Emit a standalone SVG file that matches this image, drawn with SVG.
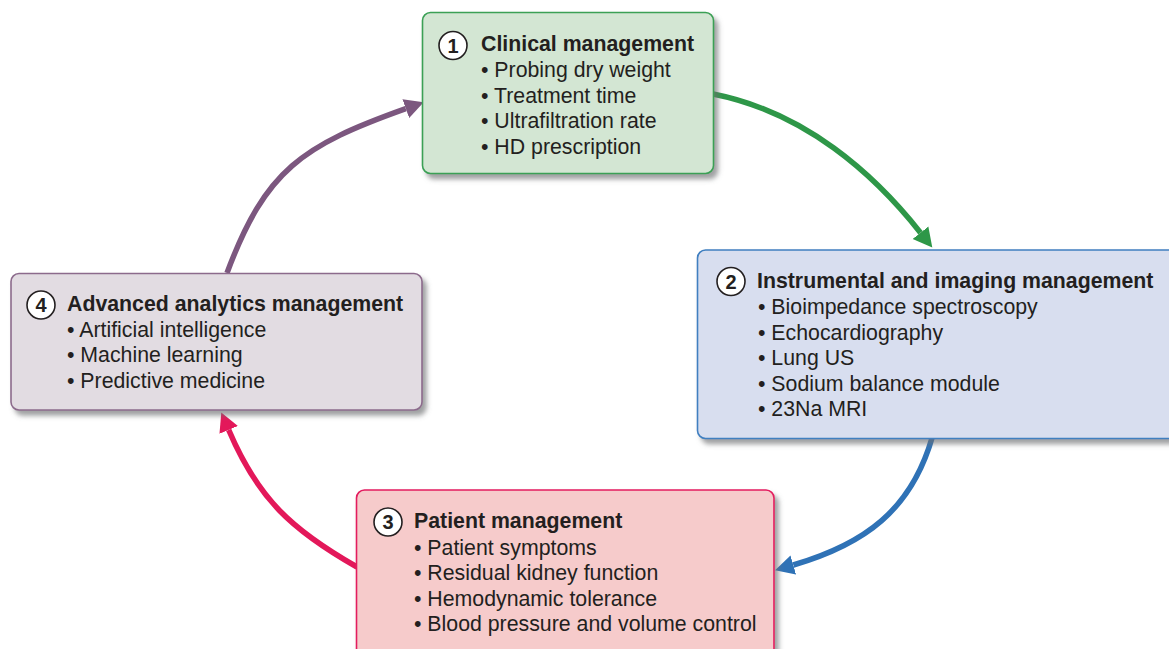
<svg xmlns="http://www.w3.org/2000/svg" width="1169" height="649" viewBox="0 0 1169 649">
<style>
.t{font-family:"Liberation Sans",Arial,sans-serif;font-size:21.3px;fill:#231f20}
.b{font-weight:bold}
.num{font-family:"Liberation Sans",Arial,sans-serif;font-size:20px;font-weight:bold;fill:#231f20;text-anchor:middle}
.c{fill:#fff;stroke:#231f20;stroke-width:1.6}
.box{stroke-width:1.6}
.arr{fill:none;stroke-width:5.5}
</style>
<defs>
<filter id="sh" x="-10%" y="-10%" width="125%" height="130%">
<feDropShadow dx="4" dy="5" stdDeviation="2.5" flood-color="#6d6e71" flood-opacity="0.65"/>
</filter>
<marker id="mg" markerUnits="userSpaceOnUse" markerWidth="20" markerHeight="22" refX="0" refY="11" orient="auto"><path d="M0,1 L19,11 L0,21 z" fill="#2e9748"/></marker>
<marker id="mb" markerUnits="userSpaceOnUse" markerWidth="20" markerHeight="22" refX="0" refY="11" orient="auto"><path d="M0,1 L19,11 L0,21 z" fill="#2f72b6"/></marker>
<marker id="mp" markerUnits="userSpaceOnUse" markerWidth="20" markerHeight="22" refX="0" refY="11" orient="auto"><path d="M0,1 L19,11 L0,21 z" fill="#e3185a"/></marker>
<marker id="mv" markerUnits="userSpaceOnUse" markerWidth="20" markerHeight="22" refX="0" refY="11" orient="auto"><path d="M0,1 L19,11 L0,21 z" fill="#7c577f"/></marker>
</defs>
<g id="connectors">
<path class="arr" stroke="#2e9748" marker-end="url(#mg)" d="M713,94 C805,112 874,174 920.5,232.7"/>
<path class="arr" stroke="#2f72b6" marker-end="url(#mb)" d="M932,438 C911,510 865,544 793.3,565"/>
<path class="arr" stroke="#e3185a" marker-end="url(#mp)" d="M357,567 C292,530 258,499 228.7,429.9"/>
<path class="arr" stroke="#7c577f" marker-end="url(#mv)" d="M227,273 C265.5,169.6 302.4,145.6 405.8,108.7"/>
</g>
<g id="node1">
<rect class="box" x="422.5" y="12.5" width="291" height="161" rx="8" fill="#d3e6d3" stroke="#3aa055" filter="url(#sh)"/>
<circle class="c" cx="453" cy="45.5" r="14"/>
<text class="num" x="453" y="52.5">1</text>
<text class="t b" x="481" y="51">Clinical management</text>
<text class="t" x="481" y="77">• Probing dry weight</text>
<text class="t" x="481" y="102.5">• Treatment time</text>
<text class="t" x="481" y="128">• Ultrafiltration rate</text>
<text class="t" x="481" y="153.5">• HD prescription</text>
</g>
<g id="node2">
<rect class="box" x="697.5" y="250" width="490" height="188.5" rx="8" fill="#d8deef" stroke="#3f7fc0" filter="url(#sh)"/>
<circle class="c" cx="731" cy="281.5" r="14"/>
<text class="num" x="731" y="288.5">2</text>
<text class="t b" x="757" y="288">Instrumental and imaging management</text>
<text class="t" x="758" y="314">• Bioimpedance spectroscopy</text>
<text class="t" x="758" y="339.5">• Echocardiography</text>
<text class="t" x="758" y="365">• Lung US</text>
<text class="t" x="758" y="390.5">• Sodium balance module</text>
<text class="t" x="758" y="416">• 23Na MRI</text>
</g>
<g id="node3">
<rect class="box" x="356.5" y="490" width="417.5" height="175" rx="8" fill="#f6cbcb" stroke="#e31c5f" filter="url(#sh)"/>
<circle class="c" cx="388" cy="522" r="14"/>
<text class="num" x="388" y="529">3</text>
<text class="t b" x="414" y="528">Patient management</text>
<text class="t" x="414" y="555">• Patient symptoms</text>
<text class="t" x="414" y="580">• Residual kidney function</text>
<text class="t" x="414" y="605.5">• Hemodynamic tolerance</text>
<text class="t" x="414" y="631">• Blood pressure and volume control</text>
</g>
<g id="node4">
<rect class="box" x="11" y="273.5" width="411" height="136.5" rx="8" fill="#e2dce2" stroke="#8c6b8c" filter="url(#sh)"/>
<circle class="c" cx="41" cy="305" r="14"/>
<text class="num" x="41" y="312">4</text>
<text class="t b" x="67" y="311">Advanced analytics management</text>
<text class="t" x="67" y="337">• Artificial intelligence</text>
<text class="t" x="67" y="362">• Machine learning</text>
<text class="t" x="67" y="387.5">• Predictive medicine</text>
</g>
</svg>
